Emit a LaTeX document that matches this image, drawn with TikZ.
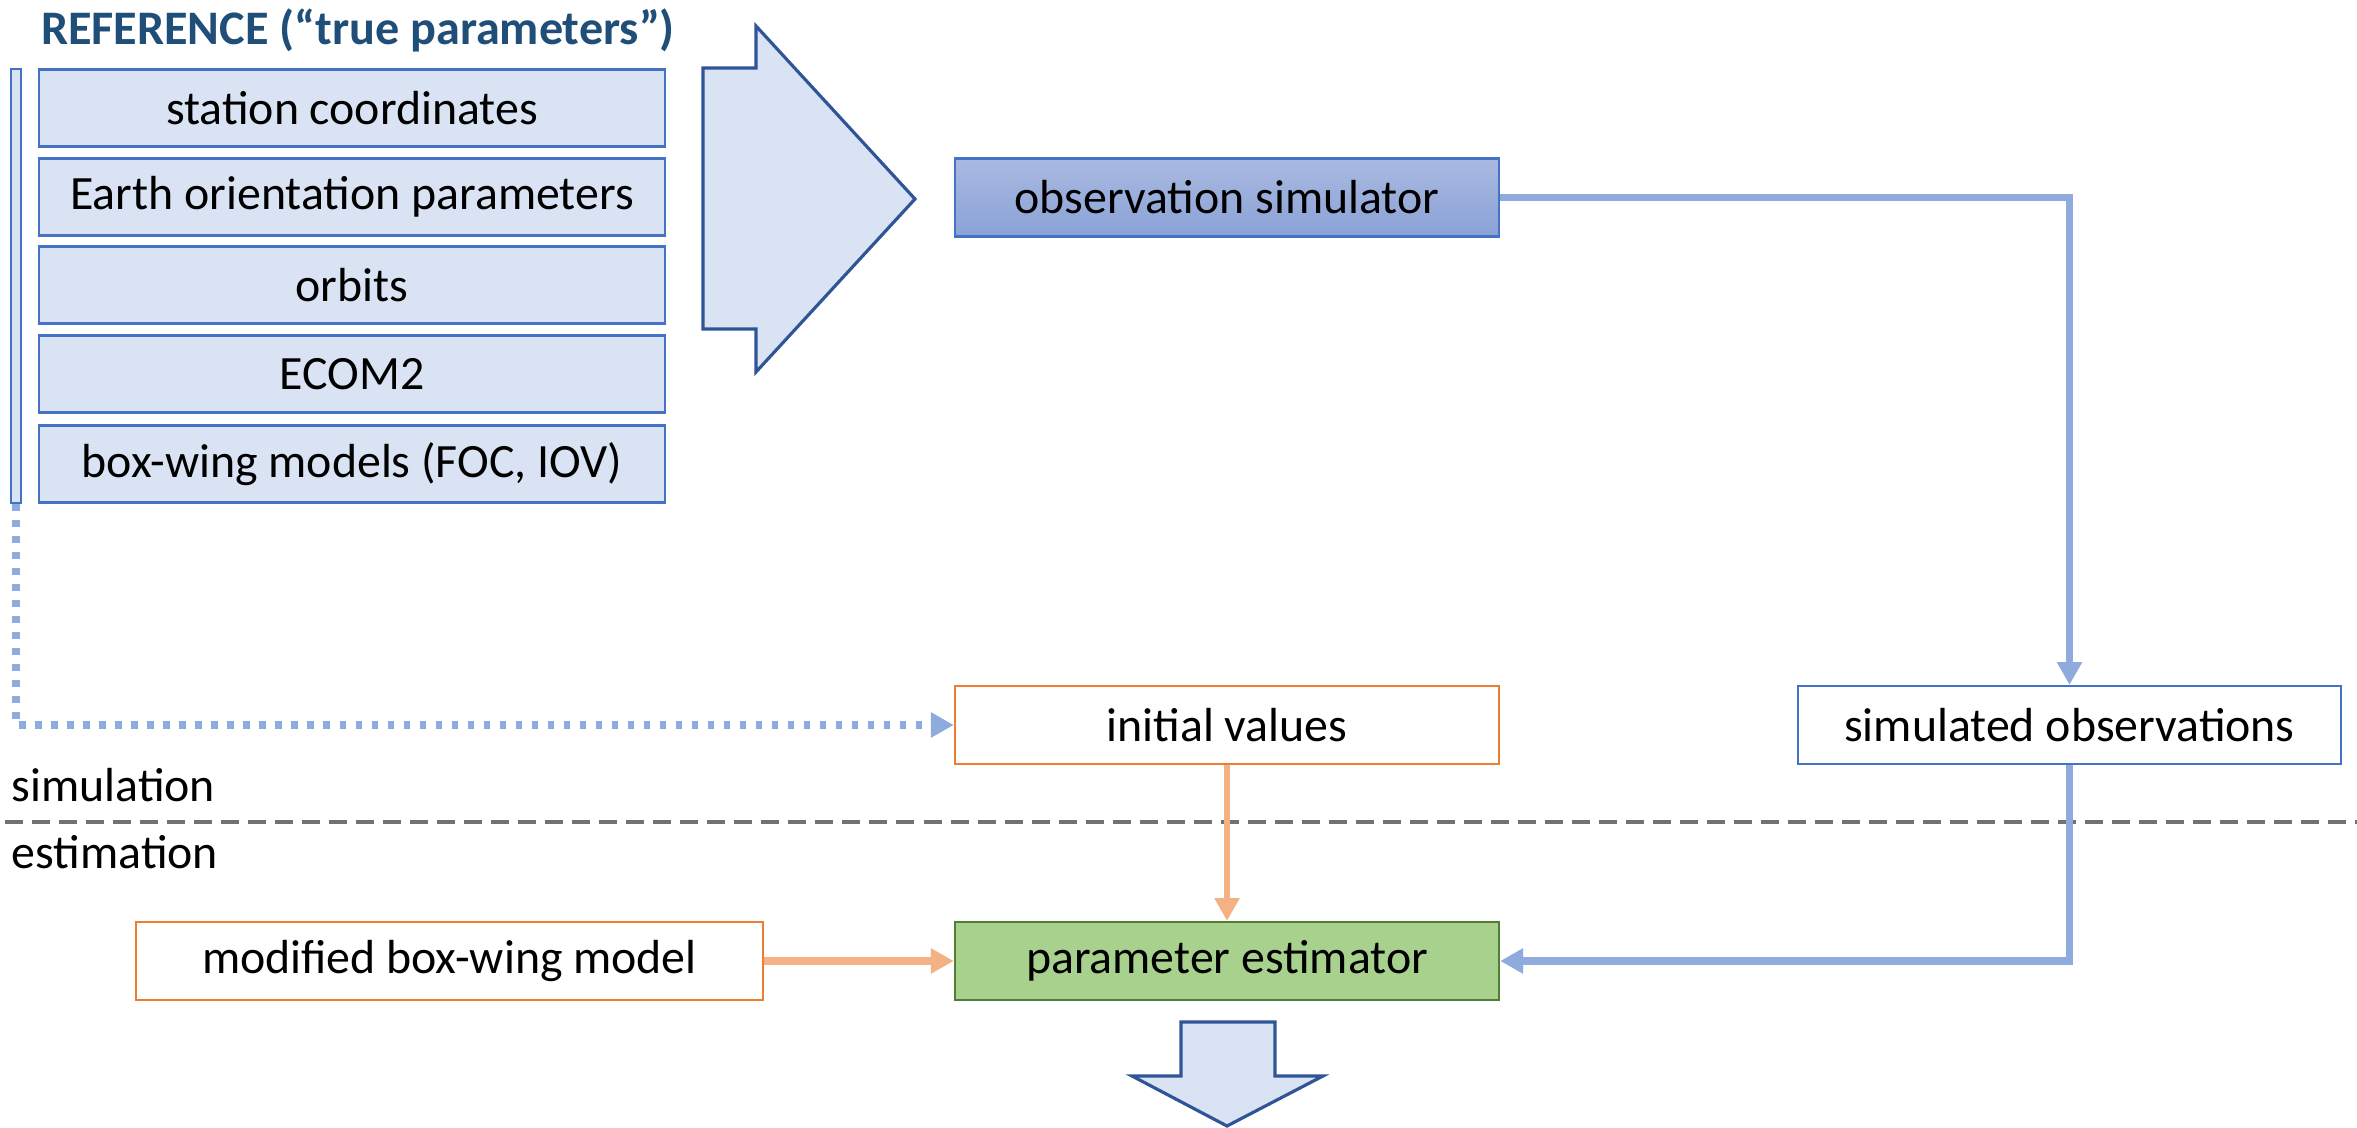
\documentclass[tikz,border=0pt]{standalone}
\usepackage{fontspec}
\setmainfont{Carlito}
\usetikzlibrary{arrows.meta,positioning,calc}
\definecolor{lightblue}{HTML}{DAE3F3}
\definecolor{boxblue}{HTML}{4472C4}
\definecolor{darkblue}{HTML}{2F5597}
\definecolor{connblue}{HTML}{8FAADC}
\definecolor{orangeln}{HTML}{F4B183}
\definecolor{orangebd}{HTML}{ED7D31}
\definecolor{greenfill}{HTML}{A9D18E}
\definecolor{greenbd}{HTML}{507E32}
\definecolor{titleblue}{HTML}{1F4E79}
\definecolor{grayln}{HTML}{767171}
\definecolor{simtop}{HTML}{AAB9E1}
\definecolor{simbot}{HTML}{8AA2D6}
\begin{document}
\begin{tikzpicture}[x=0.01cm,y=-0.01cm,
  every node/.style={font=\fontsize{13.6}{16}\selectfont, inner sep=0pt},
  parbox/.style={draw=boxblue, line width=0.6pt, fill=lightblue, minimum width=6.26cm, minimum height=0.77cm},
  procbox/.style={line width=0.6pt, minimum width=5.44cm, minimum height=0.78cm},
  tip/.style={-{Triangle[length=6.5pt,width=6.8pt]}},
  blueconn/.style={draw=connblue, line width=1.8pt},
  orangeconn/.style={draw=orangeln},
]
\useasboundingbox (0,0) rectangle (2357,1128);

% title
\node[font=\fontsize{13.7}{16}\selectfont\bfseries, text=titleblue] (title) at (358,30) {REFERENCE (“true parameters”)};

% reference bar and boxes
\node[draw=boxblue, fill=lightblue, line width=0.6pt, minimum width=0.10cm, minimum height=4.34cm] (bar) at (16,286) {};
\node[parbox] (b1) at (352,108) {station coordinates};
\node[parbox] (b2) at (352,197) {Earth orientation parameters};
\node[parbox] (b3) at (352,285) {orbits};
\node[parbox] (b4) at (352,374) {ECOM2};
\node[parbox] (b5) at (352,464) {box-wing models (FOC, IOV)};

% big block arrow
\draw[draw=darkblue, fill=lightblue, line width=0.9pt, line join=miter]
  (703,68) -- (756,68) -- (756,26) -- (915,199) -- (756,372) -- (756,329) -- (703,329) -- cycle;

% process boxes
\node[procbox, draw=boxblue, top color=simtop, bottom color=simbot] (obs) at (1227,197.5) {observation simulator};
\node[procbox, draw=orangebd, fill=white] (init) at (1227,725) {initial values};
\node[procbox, draw=boxblue, fill=white, minimum width=5.43cm] (simobs) at (2069.5,725) {simulated observations};
\node[procbox, draw=greenbd, fill=greenfill] (param) at (1227,961) {parameter estimator};
\node[procbox, draw=orangebd, fill=white, minimum width=6.27cm] (mod) at (449.5,961) {modified box-wing model};

% section labels and separator
\node[anchor=west] (simlbl) at (11,785) {simulation};
\node[anchor=west] (estlbl) at (11,852) {estimation};
\coordinate (sepL) at (5,822);
\coordinate (sepR) at (2357,822);
\draw[grayln, line width=1.1pt, dash pattern=on 0.18cm off 0.09cm] (sepL) -- (sepR);

% connectors
\draw[blueconn, tip] (obs.east) -| (simobs.north);
\coordinate (corner) at (simobs.south |- param.east);
\draw[blueconn] (simobs.south) -- ([yshift=-0.04cm]corner);
\draw[blueconn, line width=2.4pt, tip] ([xshift=-0.03cm]corner) -- (param.east);
\draw[orangeconn, line width=1.8pt, tip] (init.south) -- (param.north);
\draw[orangeconn, line width=2.4pt, tip] (mod.east) -- (param.west);
\coordinate (dotcorner) at (bar.south |- init.west);
\draw[blueconn, line width=2pt, dash pattern=on 0.065cm off 0.095cm, tip] (bar.south) -- (dotcorner) -- (init.west);

% output arrow
\draw[draw=darkblue, fill=lightblue, line width=0.9pt, line join=miter]
  (1181,1022) -- (1275,1022) -- (1275,1076) -- (1323,1076) -- (1227,1126) -- (1132,1076) -- (1181,1076) -- cycle;
\end{tikzpicture}
\end{document}
